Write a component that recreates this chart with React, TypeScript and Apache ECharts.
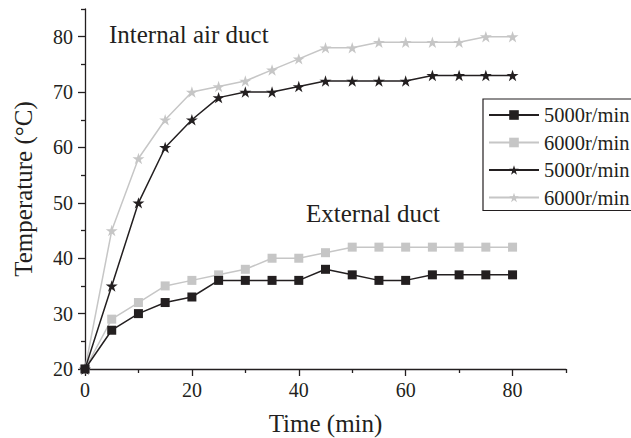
import React, { useEffect, useRef } from "react";
import * as echarts from "echarts";

const times = [0, 5, 10, 15, 20, 25, 30, 35, 40, 45, 50, 55, 60, 65, 70, 75, 80];
const ext5000 = [20, 27, 30, 32, 33, 36, 36, 36, 36, 38, 37, 36, 36, 37, 37, 37, 37];
const ext6000 = [20, 29, 32, 35, 36, 37, 38, 40, 40, 41, 42, 42, 42, 42, 42, 42, 42];
const int5000 = [20, 35, 50, 60, 65, 69, 70, 70, 71, 72, 72, 72, 72, 73, 73, 73, 73];
const int6000 = [20, 45, 58, 65, 70, 71, 72, 74, 76, 78, 78, 79, 79, 79, 79, 80, 80];
const xMajor = [0, 20, 40, 60, 80];
const xMinor = [10, 30, 50, 70, 90];
const yMajor = [20, 30, 40, 50, 60, 70, 80];
const yMinor = [25, 35, 45, 55, 65, 75, 85];
const legendNames: Record<string, string> = {
  e5: "5000r/min",
  e6: "6000r/min",
  i5: "5000r/min",
  i6: "6000r/min",
};

const FONT = "'Liberation Serif', 'Times New Roman', serif";
const BLACK = "#231f20";
const GREY = "#c6c6c6";
const STAR =
  "path://M0,-10 L2.245,-3.09 L9.51,-3.09 L3.633,1.18 L5.878,8.09 L0,3.82 L-5.878,8.09 L-3.633,1.18 L-9.51,-3.09 L-2.245,-3.09 Z";

const pairs = (ys: number[]) => times.map((t, i) => [t, ys[i]]);

export default function App() {
  const ref = useRef<HTMLDivElement>(null);
  useEffect(() => {
    if (!ref.current) return;
    const chart = echarts.init(ref.current, null, { renderer: "svg" });
    const axisCommon = {
      min: 0,
      max: 90,
    };
    const mk = (name: string, data: number[], color: string, symbol: string, size: number, z: number) => ({
      type: "line",
      name,
      data: pairs(data),
      symbol,
      symbolSize: size,
      symbolKeepAspect: true,
      showSymbol: true,
      z,
      lineStyle: { color, width: 1.5 },
      itemStyle: { color, borderWidth: 0 },
    });
    chart.setOption({
      animation: false,
      textStyle: { fontFamily: FONT },
      grid: { left: 85, right: 65, top: 9, bottom: 69, outerBoundsMode: "none", containLabel: false },
      xAxis: [
        {
          type: "value",
          ...axisCommon,
          interval: 10,
          name: "Time (min)",
          nameLocation: "middle",
          nameGap: 42,
          nameTextStyle: { fontSize: 25, color: BLACK, fontFamily: FONT },
          axisLine: { show: true, lineStyle: { color: BLACK, width: 1.3 } },
          axisTick: { show: true, length: 7, inside: false, customValues: xMajor, lineStyle: { color: BLACK, width: 1.3 } },
          axisLabel: { customValues: xMajor, fontSize: 20, color: BLACK, margin: 11, fontFamily: FONT },
          splitLine: { show: false },
        },
        {
          type: "value",
          ...axisCommon,
          position: "bottom",
          interval: 10,
          axisLine: { show: false },
          axisTick: { show: true, length: 4, inside: false, customValues: xMinor, lineStyle: { color: BLACK, width: 1.3 } },
          axisLabel: { show: false },
          splitLine: { show: false },
        },
      ],
      yAxis: [
        {
          type: "value",
          min: 20,
          max: 85,
          interval: 10,
          name: "Temperature (°C)",
          nameLocation: "middle",
          nameGap: 49,
          nameTextStyle: { fontSize: 25, color: BLACK, fontFamily: FONT },
          axisLine: { show: true, lineStyle: { color: BLACK, width: 1.3 } },
          axisTick: { show: true, length: 7, inside: false, customValues: yMajor, lineStyle: { color: BLACK, width: 1.3 } },
          axisLabel: { customValues: yMajor, fontSize: 20, color: BLACK, margin: 12, fontFamily: FONT },
          splitLine: { show: false },
        },
        {
          type: "value",
          min: 20,
          max: 85,
          interval: 10,
          position: "left",
          axisLine: { show: false },
          axisTick: { show: true, length: 4, inside: false, customValues: yMinor, lineStyle: { color: BLACK, width: 1.3 } },
          axisLabel: { show: false },
          splitLine: { show: false },
        },
      ],
      legend: {
        orient: "vertical",
        left: 483,
        top: 99,
        padding: [5, 5, 2, 5],
        itemWidth: 50,
        itemHeight: 12,
        itemGap: 5.5,
        borderColor: BLACK,
        borderWidth: 1.2,
        data: ["e5", "e6", "i5", "i6"],
        formatter: (n: string) => legendNames[n],
        textStyle: { fontSize: 20.5, lineHeight: 22, color: BLACK, fontFamily: FONT },
      },
      graphic: [
        {
          type: "text",
          left: 109,
          top: 22,
          style: { text: "Internal air duct", fontSize: 25, fill: BLACK, fontFamily: FONT },
        },
        {
          type: "text",
          left: 306,
          top: 201,
          style: { text: "External duct", fontSize: 25, fill: BLACK, fontFamily: FONT },
        },
      ],
      series: [
        mk("e5", ext5000, BLACK, "rect", 9, 4),
        mk("e6", ext6000, GREY, "rect", 9, 3),
        mk("i5", int5000, BLACK, STAR, 12, 4),
        mk("i6", int6000, GREY, STAR, 12, 3),
      ],
    });
    return () => chart.dispose();
  }, []);
  return (
    <div
      ref={ref}
      style={{ position: "fixed", left: 0, top: 0, width: 631, height: 438, background: "#fff", overflow: "hidden" }}
    />
  );
}
